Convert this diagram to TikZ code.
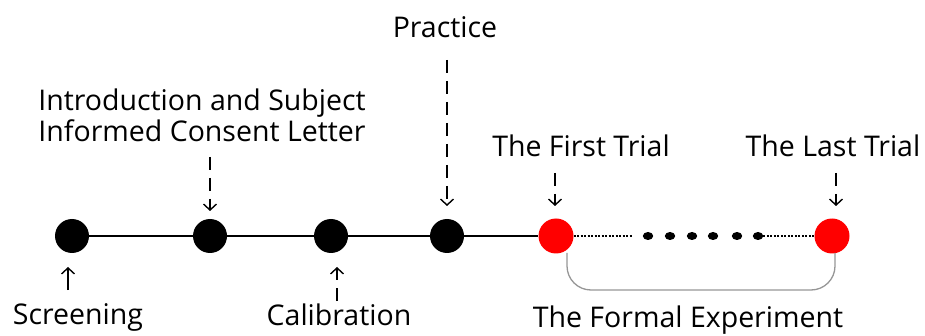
\documentclass[tikz,border=0pt]{standalone}
\usepackage{fontspec}
\setmainfont{Open Sans}
\usetikzlibrary{arrows.meta}
\definecolor{pred}{RGB}{255,0,0}
\definecolor{bgray}{RGB}{150,150,150}
\tikzset{
  dot/.style={circle,fill=black,minimum size=34pt,inner sep=0pt},
  reddot/.style={circle,fill=pred,minimum size=35pt,inner sep=0pt},
  smalldot/.style={circle,fill=black,minimum size=8pt,inner sep=0pt,xscale=1.3},
  lbl/.style={anchor=base,font=\fontsize{28.5}{34}\selectfont,inner sep=0pt},
  pointer/.style={line width=1.4pt,-{Straight Barb[length=6pt,width=13pt,line width=1.4pt]}},
  dpointer/.style={pointer,dash pattern=on 13pt off 8pt},
  mainline/.style={line width=1.5pt},
  dotline/.style={line width=1.6pt,dash pattern=on 2pt off 1.5pt},
}
\begin{document}
\begin{tikzpicture}[x=1pt,y=-1pt]
\useasboundingbox (0,0) rectangle (925,336);
% timeline dots
\node[dot] (s) at (72,236) {};
\node[dot] (i) at (210,236) {};
\node[dot] (c) at (331,236) {};
\node[dot] (p) at (447,236) {};
\node[reddot] (f) at (556,236) {};
\node[reddot] (l) at (832,236) {};
\foreach \n/\x in {d1/648,d2/670,d3/692,d4/713,d5/737,d6/758}
  \node[smalldot] (\n) at (\x,236) {};
% lines
\draw[mainline] (s) -- (i) -- (c) -- (p) -- (f);
\coordinate (dA) at (633,236);
\draw[dotline] (f) -- (dA);
\draw[dotline] (d6) -- (l);
% labels
\node[lbl] (tp) at (445,38) {Practice};
\node[lbl] (ti1) at (202,111) {Introduction and Subject};
\node[lbl] (ti2) at (202,142) {Informed Consent Letter};
\node[lbl] (tf) at (581,157) {The First Trial};
\node[lbl] (tl) at (833,157) {The Last Trial};
\node[lbl] (ts) at (78,324) {Screening};
\node[lbl] (tc) at (339,325) {Calibration};
\node[lbl] (te) at (688,327) {The Formal Experiment};
% pointers
\coordinate (sa) at (68,290); \coordinate (sb) at (68,267);
\draw[pointer] (sa) -- (sb);
\coordinate (ca) at (337,301); \coordinate (cb) at (337,267);
\draw[dpointer] (ca) -- (cb);
\coordinate (ia) at (210,157); \coordinate (ib) at (210,211);
\draw[dpointer] (ia) -- (ib);
\coordinate (pa) at (447,60); \coordinate (pb) at (447,206);
\draw[dpointer] (pa) -- (pb);
\coordinate (fa) at (555,173); \coordinate (fb) at (555,206);
\draw[dpointer] (fa) -- (fb);
\coordinate (la) at (836,173); \coordinate (lb) at (836,206);
\draw[dpointer] (la) -- (lb);
% bracket
\coordinate (b1) at (567,253); \coordinate (b2) at (567,290);
\coordinate (b3) at (835,290); \coordinate (b4) at (835,253);
\draw[bgray,line width=1.3pt,rounded corners=24pt] (b1) -- (b2) -- (b3) -- (b4);
\end{tikzpicture}
\end{document}
